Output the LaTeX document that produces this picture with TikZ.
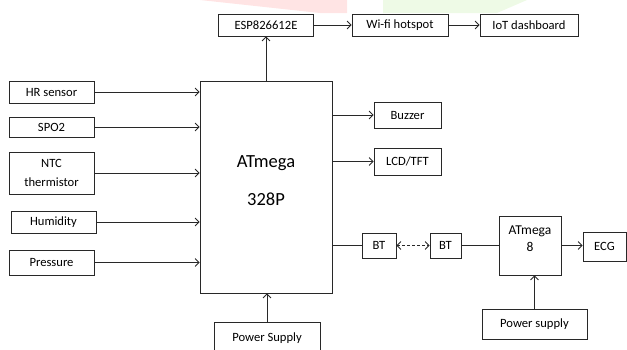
\documentclass[tikz,border=0pt]{standalone}
\usepackage{fontspec}
\setmainfont{Carlito}
\usetikzlibrary{arrows.meta}
\definecolor{wmpink}{RGB}{255,228,228}
\definecolor{wmgreen}{RGB}{238,250,230}
\definecolor{linegray}{RGB}{40,40,40}
\begin{document}
\begin{tikzpicture}[x=1pt,y=-1pt,
				box/.style={draw=linegray, line width=0.8pt, inner sep=0pt, minimum width=#1, align=center, font=\fontsize{12.6}{19}\selectfont},
				bigtext/.style={align=center, font=\fontsize{18.5}{38}\selectfont},
				midtext/.style={align=center, font=\fontsize{13.5}{17}\selectfont},
				link/.style={draw=linegray, line width=0.8pt},
				arr/.style={link, -{Straight Barb[length=4pt,width=8pt]}},
				dualarr/.style={link, dash pattern=on 3pt off 2pt, {Straight Barb[length=4pt,width=8pt]}-{Straight Barb[length=4pt,width=8pt]}}]
				\useasboundingbox (0,0) rectangle (627,349);
				\clip (0,0) rectangle (627,349);
				\fill[wmpink] (200,0) -- (347,0) -- (347,13) -- (320,13) -- cycle;
				\fill[wmgreen] (383,0) -- (527,0) -- (497,13) -- (383,13) -- cycle;
				\node[box=95pt, minimum height=22pt] (esp) at (266,25) {ESP826612E};
				\node[box=96pt, minimum height=22pt] (wifi) at (400,25) {Wi-fi hotspot};
				\node[box=98pt, minimum height=22pt] (iot) at (529,25) {IoT dashboard};
				\node[box=85pt, minimum height=22pt] (hr) at (51.5,92) {HR sensor};
				\node[box=85pt, minimum height=20pt] (spo) at (51.5,127) {SPO2};
				\node[box=85pt, minimum height=42pt] (ntc) at (51.5,173) {NTC\\thermistor};
				\node[box=85pt, minimum height=22pt] (hum) at (53.5,222) {Humidity};
				\node[box=85pt, minimum height=25pt] (pre) at (51.5,262.5) {Pressure};
				\node[box=132pt, minimum height=212pt,
					label={[bigtext, yshift=6pt]center:ATmega\\328P}] (atm) at (266,187) {};
				\node[box=67pt, minimum height=26pt] (buz) at (407.5,115) {Buzzer};
				\node[box=67pt, minimum height=27pt] (lcd) at (407.5,161.5) {LCD/TFT};
				\node[box=34pt, minimum height=25pt] (bta) at (379,245.5) {BT};
				\node[box=31pt, minimum height=25pt] (btb) at (445.5,245.5) {BT};
				\node[box=62pt, minimum height=59pt,
					label={[midtext, yshift=7pt]center:ATmega\\8}] (atmb) at (530,245.5) {};
				\node[box=43pt, minimum height=29pt] (ecg) at (604.5,246.5) {ECG};
				\node[box=106pt, minimum height=33pt] (psa) at (267,338.5) {Power Supply};
				\node[box=105pt, minimum height=30pt] (psb) at (534.5,324) {Power supply};
				\draw[arr] (atm.north) -- (esp.south);
				\draw[arr] (esp) -- (wifi);
				\draw[arr] (wifi) -- (iot);
				\draw[arr] (hr.east) -- (hr.east -| atm.west);
				\draw[arr] (spo.east) -- (spo.east -| atm.west);
				\draw[arr] (ntc.east) -- (ntc.east -| atm.west);
				\draw[arr] (hum.east) -- (hum.east -| atm.west);
				\draw[arr] (pre.east) -- (pre.east -| atm.west);
				\draw[arr] (buz.west -| atm.east) -- (buz.west);
				\draw[arr] (lcd.west -| atm.east) -- (lcd.west);
				\draw[link] (bta.west -| atm.east) -- (bta.west);
				\draw[dualarr] (bta) -- (btb);
				\draw[link] (btb) -- (atmb);
				\draw[arr] (atmb.east) -- (atmb.east -| ecg.west);
				\draw[arr] (psa.north) -- (psa.north |- atm.south);
				\draw[arr] (psb.north) -- (psb.north |- atmb.south);
			\end{tikzpicture}
\end{document}
